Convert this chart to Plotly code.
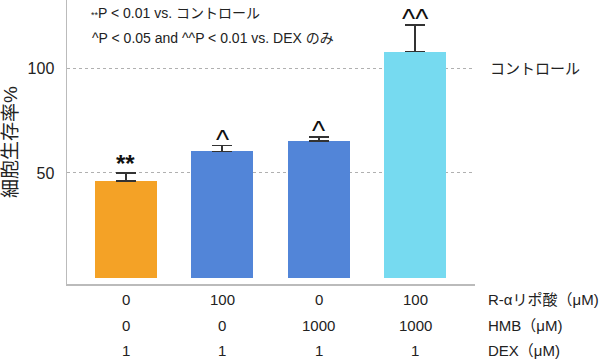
import plotly.graph_objects as go

categories = ["A", "B", "C", "D"]
values = [46.2, 60.3, 65.1, 107.8]
errors = [3.7, 2.7, 2.0, 12.7]
colors = ["#F4A226", "#5285D8", "#5285D8", "#76DAF0"]
sig_marks = ["**", "^", "^", "^^"]
row_r_alpha = ["0", "100", "0", "100"]
row_hmb = ["0", "0", "1000", "1000"]
row_dex = ["1", "1", "1", "1"]
row_labels = ["R-αリポ酸（μM)", "HMB（μM)", "DEX（μM)"]
note1 = "<span style='font-size:9px'>**</span>P < 0.01 vs. コントロール"
note2 = "^P < 0.05 and ^^P < 0.01 vs. DEX のみ"
control_label = "コントロール"
y_title = "細胞生存率%"

FONT = "Liberation Sans, Noto Sans CJK JP, sans-serif"

L, R, T, B = 67, 125, 0, 76
pw = 600 - L - R
ph = 360 - T - B


def px_x(x):
    return (x - L) / pw


def px_y(y):
    return 1 - (y - T) / ph


fig = go.Figure()
fig.add_trace(go.Bar(
    x=list(range(len(categories))), y=values, width=0.64,
    marker=dict(color=colors, line=dict(width=0)),
    error_y=dict(type="data", array=errors, arrayminus=[0] * 4, symmetric=False,
                 color="#333333", thickness=1.6, width=10),
    showlegend=False,
    hoverinfo="skip",
))

annotations = []
for i, (v, e, m) in enumerate(zip(values, errors, sig_marks)):
    is_star = m.startswith("*")
    annotations.append(dict(
        x=i, y=v + e, xref="x", yref="y",
        text=f"<b>{m}</b>" if is_star else m,
        showarrow=False, yanchor="bottom",
        yshift=-6 if is_star else -11,
        font=dict(size=24 if is_star else 28, color="#111111", family=FONT),
    ))

rows = [row_r_alpha, row_hmb, row_dex]
row_y = [299, 325, 350]
for r, yy in zip(rows, row_y):
    for i, t in enumerate(r):
        annotations.append(dict(
            x=i, y=px_y(yy), xref="x", yref="paper", text=t, showarrow=False,
            xanchor="center", yanchor="middle", font=dict(size=15, color="#222222", family=FONT),
        ))
for lab, yy in zip(row_labels, row_y):
    annotations.append(dict(
        x=px_x(486), y=px_y(yy), xref="paper", yref="paper", text=lab, showarrow=False,
        xanchor="left", yanchor="middle", font=dict(size=15, color="#222222", family=FONT),
    ))

annotations.append(dict(x=px_x(89), y=px_y(13), xref="paper", yref="paper", text=note1,
                        showarrow=False, xanchor="left", yanchor="middle",
                        font=dict(size=14, color="#222222", family=FONT)))
annotations.append(dict(x=px_x(90), y=px_y(38), xref="paper", yref="paper", text=note2,
                        showarrow=False, xanchor="left", yanchor="middle",
                        font=dict(size=14, color="#222222", family=FONT)))
annotations.append(dict(x=px_x(488), y=100, xref="paper", yref="y", text=control_label,
                        showarrow=False, xanchor="left", yanchor="middle",
                        font=dict(size=15, color="#222222", family=FONT)))

fig.update_layout(
    width=600, height=360,
    margin=dict(l=L, r=R, t=T, b=B),
    paper_bgcolor="white", plot_bgcolor="white",
    font=dict(family=FONT, color="#222222"),
    annotations=annotations,
    bargap=0,
    xaxis=dict(range=[-0.61, 3.62], showticklabels=False, ticks="", showgrid=False,
               zeroline=False, showline=True, linecolor="#BBBBBB", linewidth=2,
               fixedrange=True, automargin=False),
    yaxis=dict(range=[-2.9, 132.4], tickvals=[50, 100], ticktext=["50", "100"],
               tickfont=dict(size=16, color="#222222"), ticks="", ticklabelstandoff=8,
               showgrid=True, gridcolor="#B0B0B0", griddash="dot", gridwidth=1,
               zeroline=False, showline=True, linecolor="#BBBBBB", linewidth=1.5,
               automargin=False, fixedrange=True,
               title=dict(text=y_title, font=dict(size=19, color="#222222"), standoff=8)),
)

fig.write_html("out.html", config={"displayModeBar": False, "staticPlot": True},
               post_script="document.body.style.margin='0';document.body.style.padding='0';")
